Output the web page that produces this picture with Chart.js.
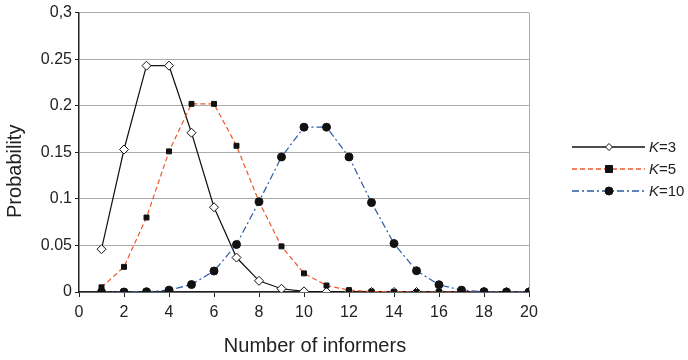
<!DOCTYPE html>
<html>
<head>
<meta charset="utf-8">
<script src="https://cdn.jsdelivr.net/npm/chart.js@4"></script>
<style>
  html, body { margin: 0; padding: 0; background: #fff; }
  #wrap { width: 688px; height: 360px; }
</style>
</head>
<body>
<div id="wrap"><canvas id="c" width="688" height="360"></canvas></div>
<script>
// Number of informers (x values)
const informers = [1,2,3,4,5,6,7,8,9,10,11,12,13,14,15,16,17,18,19,20];

// Probability for each K
const probK3  = [0.046,0.153,0.243,0.243,0.171,0.091,0.037,0.012,0.0035,0.0007,0.0001,0,0,0,0,0,0,0,0,0];
const probK5  = [0.005,0.027,0.080,0.151,0.202,0.202,0.157,0.097,0.049,0.020,0.007,0.002,0.0005,0.0001,0,0,0,0,0,0];
const probK10 = [0,0,0.0003,0.002,0.008,0.0225,0.051,0.097,0.145,0.177,0.177,0.145,0.096,0.052,0.0228,0.0078,0.002,0.0004,0.0001,0];

// Series labels: italic symbol + value
const seriesSymbol = ['K','K','K'];
const seriesValue  = ['=3','=5','=10'];

// Axis titles and tick labels
const xTitle = 'Number of informers';
const yTitle = 'Probability';
const yTickLabels = {0:'0', 0.05:'0.05', 0.1:'0.1', 0.15:'0.15', 0.2:'0.2', 0.25:'0.25', 0.3:'0,3'};

const toPoints = arr => arr.map((v, i) => ({ x: informers[i], y: v }));

const styles = [
  { color: '#111111', dash: [], pointStyle: 'rectRot', fill: '#ffffff', radius: 4.5 },
  { color: '#f0582a', dash: [5, 3], pointStyle: 'rect', fill: '#111111', radius: 3.5 },
  { color: '#2b5ca8', dash: [7, 3, 2, 3], pointStyle: 'circle', fill: '#111111', radius: 4 }
];

const seriesData = [probK3, probK5, probK10];

const datasets = seriesData.map((arr, i) => ({
  label: seriesSymbol[i] + seriesValue[i],
  data: toPoints(arr),
  borderColor: styles[i].color,
  borderWidth: 1.2,
  borderDash: styles[i].dash,
  pointStyle: styles[i].pointStyle,
  pointRadius: styles[i].radius,
  pointBackgroundColor: styles[i].fill,
  pointBorderColor: '#111111',
  pointBorderWidth: 1,
  tension: 0,
  order: 2 - i
}));

// Axis titles and the legend with an italic symbol
const extras = {
  id: 'extras',
  afterDraw(chart) {
    const ctx = chart.ctx;
    const area = chart.chartArea;
    ctx.save();
    ctx.fillStyle = '#222222';
    ctx.font = '20px "Liberation Sans"';
    ctx.textAlign = 'center';
    ctx.textBaseline = 'middle';
    ctx.fillText(xTitle, 315, 346);
    ctx.save();
    ctx.translate(15, (area.top + area.bottom) / 2 + 19);
    ctx.rotate(-Math.PI / 2);
    ctx.fillText(yTitle, 0, 0);
    ctx.restore();

    const rows = [147, 169, 191];
    const x0 = 572, x1 = 645, xm = 609, xt = 649;
    datasets.forEach((ds, i) => {
      const y = rows[i];
      const st = styles[i];
      ctx.strokeStyle = st.color;
      ctx.lineWidth = 1.6;
      ctx.setLineDash(st.dash);
      ctx.beginPath();
      ctx.moveTo(x0, y);
      ctx.lineTo(x1, y);
      ctx.stroke();
      ctx.setLineDash([]);
      ctx.fillStyle = st.fill;
      ctx.strokeStyle = '#111111';
      ctx.lineWidth = 1;
      ctx.beginPath();
      const r = st.pointStyle === 'rectRot' ? 3.5 : st.radius;
      if (st.pointStyle === 'circle') ctx.arc(xm, y, r, 0, Math.PI * 2);
      else if (st.pointStyle === 'rect') ctx.rect(xm - r, y - r, r * 2, r * 2);
      else {
        ctx.moveTo(xm, y - r); ctx.lineTo(xm + r, y);
        ctx.lineTo(xm, y + r); ctx.lineTo(xm - r, y);
        ctx.closePath();
      }
      ctx.fill(); ctx.stroke();
      ctx.fillStyle = '#222222';
      ctx.textBaseline = 'middle';
      ctx.textAlign = 'left';
      ctx.font = 'italic 15px "Liberation Sans"';
      ctx.fillText(seriesSymbol[i], xt, y + 1);
      const w = ctx.measureText(seriesSymbol[i]).width;
      ctx.font = '15px "Liberation Sans"';
      ctx.fillText(seriesValue[i], xt + w, y + 1);
    });
    ctx.restore();
  }
};

new Chart(document.getElementById('c'), {
  type: 'line',
  data: { datasets },
  plugins: [extras],
  options: {
    responsive: false,
    animation: false,
    layout: { padding: { top: 12, right: 159, left: 0, bottom: 0 } },
    plugins: { legend: { display: false }, tooltip: { enabled: false } },
    scales: {
      x: {
        type: 'linear',
        min: 0, max: 20,
        afterFit: s => { s.height = 68; },
        ticks: { stepSize: 2, color: '#222', font: { family: 'Liberation Sans', size: 16 }, padding: 6 },
        grid: {
          color: ctx => (ctx.tick && ctx.tick.value === 20) ? '#aaaaaa' : 'rgba(0,0,0,0)',
          tickColor: '#222',
          tickLength: 5
        },
        border: { color: '#222', width: 1.5 }
      },
      y: {
        min: 0, max: 0.3,
        afterFit: s => { s.width = 79; },
        ticks: {
          stepSize: 0.05, color: '#222', font: { family: 'Liberation Sans', size: 16 }, padding: 3,
          callback: v => yTickLabels[Math.round(v * 100) / 100] ?? ''
        },
        grid: { color: '#aaaaaa', tickColor: '#222', tickLength: 4, lineWidth: 1 },
        border: { color: '#222', width: 1.5 }
      }
    }
  }
});
</script>
</body>
</html>
